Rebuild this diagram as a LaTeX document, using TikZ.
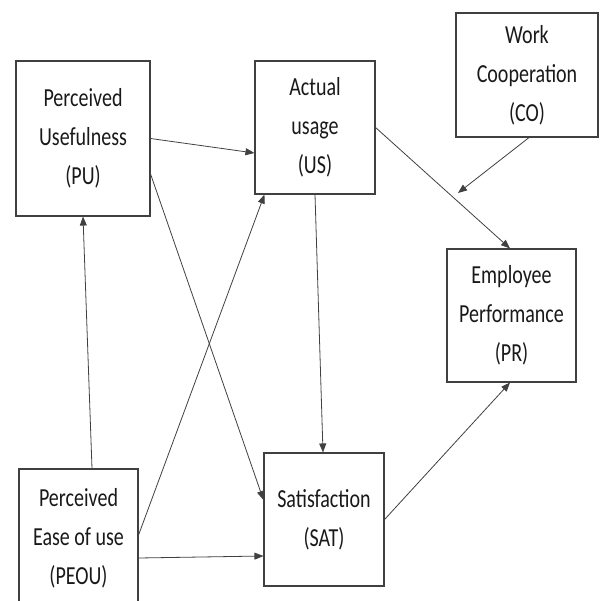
\documentclass[tikz,border=0pt]{standalone}
\usepackage{fontspec}
\setmainfont[FakeStretch=0.77]{Carlito}
\usetikzlibrary{arrows.meta, calc}

\tikzset{
	construct/.style={draw=black!75, line width=1.1pt, inner sep=0pt, align=center,
		font=\fontsize{26}{39}\selectfont, text=black!90},
	path/.style={draw=black!75, line width=0.8pt, -{Triangle[length=9pt,width=7pt]}}
}

\begin{document}
\begin{tikzpicture}[x=1pt, y=-1pt]
	\path[use as bounding box, clip] (0,0) rectangle (599,601);

	\node[construct, minimum width=134, minimum height=155] (pu) at (83,138.5) {Perceived\\Usefulness\\(PU)};
	\node[construct, minimum width=120, minimum height=133] (us) at (315,127.5) {Actual\\usage\\(US)};
	\node[construct, minimum width=142, minimum height=124] (co) at (527,75) {Work\\Cooperation\\(CO)};
	\node[construct, minimum width=129, minimum height=133] (pr) at (511.5,315.5) {Employee\\Performance\\(PR)};
	\node[construct, minimum width=119, minimum height=138] (peou) at (78.5,538) {Perceived\\Ease of use\\(PEOU)};
	\node[construct, minimum width=120, minimum height=133] (sat) at (324,519.5) {Satisfaction\\(SAT)};

	\coordinate (join) at (458,193);

	\draw[path]	($(peou.north)+(13.5,0)$) -- (pu.south);
	\draw[path]	(pu.east) -- ($(us.west)+(0,25.5)$);
	\draw[path]	($(pu.east)+(0,35.5)$) -- ($(sat.west)+(0,-19.5)$);
	\draw[path]	($(peou.east)+(0,-3)$) -- ($(us.south west)+(10,0)$);
	\draw[path]	($(peou.east)+(0,20)$) -- ($(sat.west)+(0,36.5)$);
	\draw[path]	(us.south) -- ($(sat.north)+(-1,0)$);
	\draw[path]	(us.east) -- ($(pr.north)+(-1.5,0)$);
	\draw[path]	($(co.south)+(2,0)$) -- (join);
	\draw[path]	(sat.east) -- ($(pr.south)+(-1.5,0)$);
\end{tikzpicture}
\end{document}
